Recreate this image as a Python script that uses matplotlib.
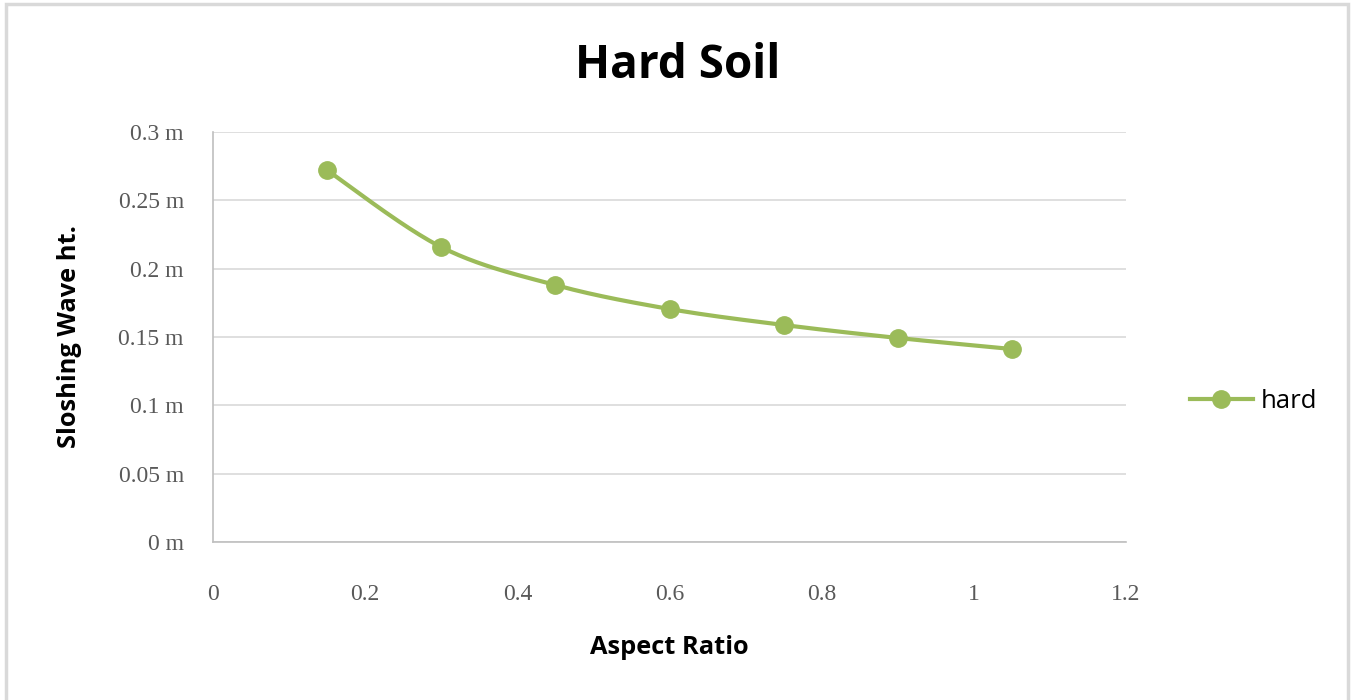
import numpy as np
import matplotlib
matplotlib.use("Agg")
import matplotlib.pyplot as plt
from matplotlib.patches import Rectangle
from matplotlib.lines import Line2D

aspect_ratio = [0.15, 0.30, 0.45, 0.60, 0.75, 0.90, 1.05]
wave_ht = [0.272, 0.2158, 0.188, 0.1705, 0.1588, 0.1493, 0.1412]
x_ticks = [0, 0.2, 0.4, 0.6, 0.8, 1.0, 1.2]
x_tick_labels = ["0", "0.2", "0.4", "0.6", "0.8", "1", "1.2"]
y_ticks = [0, 0.05, 0.1, 0.15, 0.2, 0.25, 0.3]
y_tick_labels = ["0 m", "0.05 m", "0.1 m", "0.15 m", "0.2 m", "0.25 m", "0.3 m"]
series_name = "hard"
title = "Hard Soil"

green = "#9BBB59"
W, H = 1354, 700
fig = plt.figure(figsize=(W / 100, H / 100), dpi=100)

# outer frame
fig.patches.append(Rectangle((6 / W, -0.01), (1348 - 6) / W, 1 - 4 / H + 0.01,
                             transform=fig.transFigure, fill=False,
                             edgecolor="#D9D9D9", linewidth=2.5))

ax = fig.add_axes([213 / W, 1 - 542 / H, (1126 - 213) / W, (542 - 132) / H])
ax.set_xlim(0, 1.2)
ax.set_ylim(0, 0.3)


def smooth(xs, ys, n=40):
    xs = np.asarray(xs, float)
    ys = np.asarray(ys, float)
    px = np.concatenate([[xs[0]], xs, [xs[-1]]])
    py = np.concatenate([[ys[0]], ys, [ys[-1]]])
    ox, oy = [], []
    t = np.linspace(0, 1, n)
    for i in range(1, len(px) - 2):
        p0 = np.array([px[i], py[i]])
        p3 = np.array([px[i + 1], py[i + 1]])
        p1 = p0 + (np.array([px[i + 1], py[i + 1]]) - np.array([px[i - 1], py[i - 1]])) / 6
        p2 = p3 - (np.array([px[i + 2], py[i + 2]]) - np.array([px[i], py[i]])) / 6
        b = ((1 - t) ** 3)[:, None] * p0 + (3 * (1 - t) ** 2 * t)[:, None] * p1 \
            + (3 * (1 - t) * t ** 2)[:, None] * p2 + (t ** 3)[:, None] * p3
        ox.extend(b[:, 0]); oy.extend(b[:, 1])
    return ox, oy


sx, sy = smooth(aspect_ratio, wave_ht)
ax.plot(sx, sy, color=green, linewidth=3, solid_capstyle="round", zorder=3)
ax.plot(aspect_ratio, wave_ht, linestyle="none", marker="o", markersize=12.5,
        color=green, zorder=4)

ax.set_xticks(x_ticks)
ax.set_xticklabels(x_tick_labels)
ax.set_yticks(y_ticks)
ax.set_yticklabels(y_tick_labels)
ax.tick_params(length=0, colors="#595959", labelsize=17)
ax.tick_params(axis="y", pad=21)
ax.tick_params(axis="x", pad=30)
for lab in ax.get_xticklabels() + ax.get_yticklabels():
    lab.set_fontfamily(["Liberation Serif", "DejaVu Serif"])
ax.grid(axis="y", color="#D9D9D9", linewidth=1.2)
ax.set_axisbelow(True)
for s in ["top", "right"]:
    ax.spines[s].set_visible(False)
ax.spines["left"].set_color("#BFBFBF")
ax.spines["bottom"].set_color("#BFBFBF")
ax.spines["left"].set_linewidth(1.2)
ax.spines["bottom"].set_linewidth(1.2)

fig.text(678 / W, 1 - 65 / H, title, ha="center", va="center", fontsize=33,
         fontweight="bold", family="Open Sans")
fig.text(669 / W, 1 - 648 / H, "Aspect Ratio", ha="center", va="center",
         fontsize=18.3, fontweight="bold", family="Open Sans")
fig.text(69 / W, 1 - 337 / H, "Sloshing Wave ht.", ha="center", va="center",
         fontsize=18.3, fontweight="bold", family="Open Sans", rotation=90)

handle = Line2D([], [], color=green, linewidth=3, marker="o", markersize=12.5)
fig.legend([handle], [series_name], loc="center left",
           bbox_to_anchor=(1190 / W, 1 - 401 / H), frameon=False,
           prop={"family": "Open Sans", "size": 18.5}, handlelength=2.45,
           handletextpad=0.3, borderaxespad=0, borderpad=0)

fig.savefig("out.png", dpi=100)
